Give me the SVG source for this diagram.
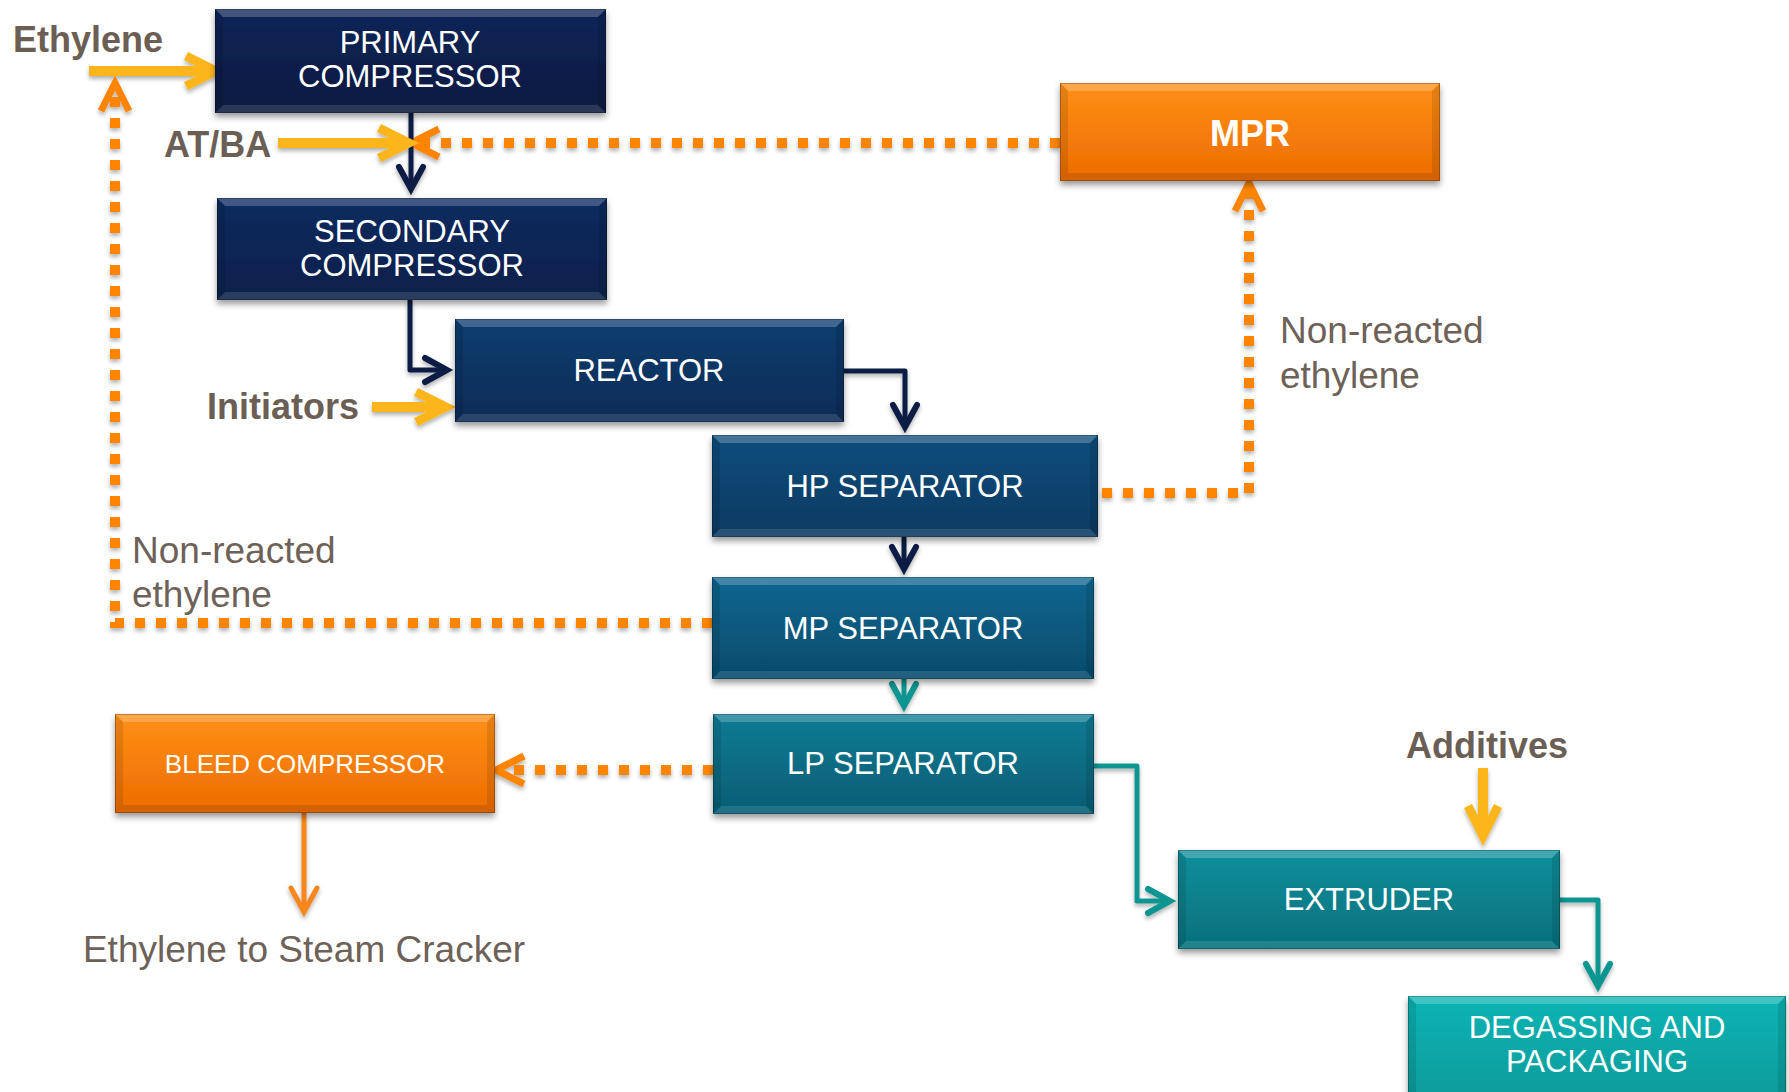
<svg xmlns="http://www.w3.org/2000/svg" width="1789" height="1092" viewBox="0 0 1789 1092">
<defs>
  <style>
    .node-text{font-family:"Liberation Sans",Arial,sans-serif;font-size:31px;fill:#ffffff;text-anchor:middle}
    .node-text.big{font-size:36px;font-weight:bold}
    .node-text.small{font-size:26px}
    .label{font-family:"Liberation Sans",Arial,sans-serif;fill:#6d6158}
    .blabel{font-family:"Liberation Sans",Arial,sans-serif;font-size:36px;font-weight:bold;fill:#6b5e55}
    .glabel{font-size:37px}
    .bt{fill:#ffffff;fill-opacity:0.22}
    .bb{fill:#ffffff;fill-opacity:0.12}
    .bs{fill:#000000;fill-opacity:0.10}
    .edge{fill:none;stroke:#000000;stroke-opacity:0.25;stroke-width:1}
    .navy{fill:none;stroke:#0d1f45;stroke-width:5;stroke-linejoin:round}
    .teal{fill:none;stroke:#0e9592;stroke-width:5;stroke-linejoin:round}
    .yellow{fill:none;stroke:#fdb51c;stroke-width:10}
    .odot{fill:none;stroke:#ff8500;stroke-width:10;stroke-dasharray:10 11}
    .osolid{fill:none;stroke:#f7861a;stroke-width:5}
  </style>
  <filter id="sh" x="-10%" y="-20%" width="120%" height="150%">
    <feDropShadow dx="0" dy="4" stdDeviation="3" flood-color="#000" flood-opacity="0.4"/>
  </filter>
  <filter id="lsh" x="-10%" y="-10%" width="120%" height="120%">
    <feDropShadow dx="0" dy="3" stdDeviation="2" flood-color="#000" flood-opacity="0.3"/>
  </filter>
  <linearGradient id="g-primary" x1="0" y1="0" x2="0" y2="1"><stop offset="0" stop-color="#0c2558"/><stop offset="1" stop-color="#071a40"/></linearGradient>
  <linearGradient id="g-secondary" x1="0" y1="0" x2="0" y2="1"><stop offset="0" stop-color="#0c2b60"/><stop offset="1" stop-color="#08204a"/></linearGradient>
  <linearGradient id="g-reactor" x1="0" y1="0" x2="0" y2="1"><stop offset="0" stop-color="#0b3d70"/><stop offset="1" stop-color="#072c56"/></linearGradient>
  <linearGradient id="g-hp" x1="0" y1="0" x2="0" y2="1"><stop offset="0" stop-color="#0b4d7c"/><stop offset="1" stop-color="#073a62"/></linearGradient>
  <linearGradient id="g-mp" x1="0" y1="0" x2="0" y2="1"><stop offset="0" stop-color="#0a6690"/><stop offset="1" stop-color="#064b6c"/></linearGradient>
  <linearGradient id="g-lp" x1="0" y1="0" x2="0" y2="1"><stop offset="0" stop-color="#0a7c95"/><stop offset="1" stop-color="#065c72"/></linearGradient>
  <linearGradient id="g-ext" x1="0" y1="0" x2="0" y2="1"><stop offset="0" stop-color="#0a909c"/><stop offset="1" stop-color="#06707c"/></linearGradient>
  <linearGradient id="g-deg" x1="0" y1="0" x2="0" y2="1"><stop offset="0" stop-color="#0bb4b4"/><stop offset="1" stop-color="#089c9c"/></linearGradient>
  <linearGradient id="g-orange" x1="0" y1="0" x2="0" y2="1"><stop offset="0" stop-color="#ff9016"/><stop offset="1" stop-color="#ec6c00"/></linearGradient>
  <marker id="m-navy" markerUnits="userSpaceOnUse" orient="auto" overflow="visible" markerWidth="1" markerHeight="1">
    <path d="M-22,-12 L0,0 L-22,12" fill="none" stroke="#0d1f45" stroke-width="6" stroke-linecap="round" stroke-dasharray="none"/>
  </marker>
  <marker id="m-teal" markerUnits="userSpaceOnUse" orient="auto" overflow="visible" markerWidth="1" markerHeight="1">
    <path d="M-22,-12 L0,0 L-22,12" fill="none" stroke="#0e9592" stroke-width="6" stroke-linecap="round" stroke-dasharray="none"/>
  </marker>
  <marker id="m-yellow" markerUnits="userSpaceOnUse" orient="auto" overflow="visible" markerWidth="1" markerHeight="1">
    <path d="M-30,-15 L0,0 L-30,15" fill="none" stroke="#fdb51c" stroke-width="9" stroke-dasharray="none"/>
  </marker>
  <marker id="m-orange" markerUnits="userSpaceOnUse" orient="auto" overflow="visible" markerWidth="1" markerHeight="1">
    <path d="M-20,-14 L8,0 L-20,14" fill="none" stroke="#ff8500" stroke-width="7" stroke-dasharray="none"/>
  </marker>
  <marker id="m-osolid" markerUnits="userSpaceOnUse" orient="auto" overflow="visible" markerWidth="1" markerHeight="1">
    <path d="M-24,-13 L0,0 L-24,13" fill="none" stroke="#f7861a" stroke-width="5" stroke-linecap="round" stroke-dasharray="none"/>
  </marker>
</defs>

<rect x="0" y="0" width="1789" height="1092" fill="#ffffff"/>

<!-- connectors -->
<g id="connectors" filter="url(#lsh)">
  <path class="odot" d="M1060,143 H419" marker-end="url(#m-orange)"/>
  <path class="odot" d="M1102,493 H1249 V191" marker-end="url(#m-orange)"/>
  <path class="odot" d="M712,623 H115 V91" marker-end="url(#m-orange)"/>
  <path class="odot" d="M713,770 H504" marker-end="url(#m-orange)"/>
  <path class="navy" d="M411,113 V189" marker-end="url(#m-navy)"/>
  <path class="navy" d="M410,300 V370 H447" marker-end="url(#m-navy)"/>
  <path class="navy" d="M844,371 H905 V427" marker-end="url(#m-navy)"/>
  <path class="navy" d="M904,537 V569" marker-end="url(#m-navy)"/>
  <path class="teal" d="M904,679 V706" marker-end="url(#m-teal)"/>
  <path class="teal" d="M1094,766 H1137 V901 H1170" marker-end="url(#m-teal)"/>
  <path class="teal" d="M1560,900 H1598 V986" marker-end="url(#m-teal)"/>
  <path class="osolid" d="M304,813 V912" marker-end="url(#m-osolid)"/>
  <path class="yellow" d="M89,71 H216" marker-end="url(#m-yellow)"/>
  <path class="yellow" d="M278,143 H409" marker-end="url(#m-yellow)"/>
  <path class="yellow" d="M372,407 H446" marker-end="url(#m-yellow)"/>
  <path class="yellow" d="M1483,768 V836" marker-end="url(#m-yellow)"/>
</g>

<!-- labels -->
<g id="labels">
  <text class="blabel" x="13" y="52">Ethylene</text>
  <text class="blabel" x="164" y="157">AT/BA</text>
  <text class="blabel" x="207" y="419">Initiators</text>
  <text class="blabel" x="1487" y="758" text-anchor="middle">Additives</text>
  <text class="label glabel" x="1280" y="343">Non-reacted</text>
  <text class="label glabel" x="1280" y="388">ethylene</text>
  <text class="label glabel" x="132" y="563">Non-reacted</text>
  <text class="label glabel" x="132" y="607">ethylene</text>
  <text class="label glabel" x="304" y="962" text-anchor="middle">Ethylene to Steam Cracker</text>
</g>

<!-- nodes -->
<g id="primary-compressor">
  <rect x="215" y="9" width="391" height="104" fill="url(#g-primary)" filter="url(#sh)"/>
  <polygon class="bt" points="215,9 606,9 598,17 223,17"/>
  <polygon class="bb" points="215,113 606,113 598,105 223,105"/>
  <polygon class="bs" points="215,9 223,17 223,105 215,113"/>
  <polygon class="bs" points="606,9 598,17 598,105 606,113"/>
  <rect class="edge" x="215.5" y="9.5" width="390" height="103"/>
  <text class="node-text" x="410" y="53">PRIMARY</text>
  <text class="node-text" x="410" y="87">COMPRESSOR</text>
</g>
<g id="secondary-compressor">
  <rect x="217" y="198" width="390" height="102" fill="url(#g-secondary)" filter="url(#sh)"/>
  <polygon class="bt" points="217,198 607,198 599,206 225,206"/>
  <polygon class="bb" points="217,300 607,300 599,292 225,292"/>
  <polygon class="bs" points="217,198 225,206 225,292 217,300"/>
  <polygon class="bs" points="607,198 599,206 599,292 607,300"/>
  <rect class="edge" x="217.5" y="198.5" width="389" height="101"/>
  <text class="node-text" x="412" y="242">SECONDARY</text>
  <text class="node-text" x="412" y="276">COMPRESSOR</text>
</g>
<g id="reactor">
  <rect x="455" y="319" width="389" height="103" fill="url(#g-reactor)" filter="url(#sh)"/>
  <polygon class="bt" points="455,319 844,319 836,327 463,327"/>
  <polygon class="bb" points="455,422 844,422 836,414 463,414"/>
  <polygon class="bs" points="455,319 463,327 463,414 455,422"/>
  <polygon class="bs" points="844,319 836,327 836,414 844,422"/>
  <rect class="edge" x="455.5" y="319.5" width="388" height="102"/>
  <text class="node-text" x="649" y="381">REACTOR</text>
</g>
<g id="hp-separator">
  <rect x="712" y="435" width="386" height="102" fill="url(#g-hp)" filter="url(#sh)"/>
  <polygon class="bt" points="712,435 1098,435 1090,443 720,443"/>
  <polygon class="bb" points="712,537 1098,537 1090,529 720,529"/>
  <polygon class="bs" points="712,435 720,443 720,529 712,537"/>
  <polygon class="bs" points="1098,435 1090,443 1090,529 1098,537"/>
  <rect class="edge" x="712.5" y="435.5" width="385" height="101"/>
  <text class="node-text" x="905" y="497">HP SEPARATOR</text>
</g>
<g id="mp-separator">
  <rect x="712" y="577" width="382" height="102" fill="url(#g-mp)" filter="url(#sh)"/>
  <polygon class="bt" points="712,577 1094,577 1086,585 720,585"/>
  <polygon class="bb" points="712,679 1094,679 1086,671 720,671"/>
  <polygon class="bs" points="712,577 720,585 720,671 712,679"/>
  <polygon class="bs" points="1094,577 1086,585 1086,671 1094,679"/>
  <rect class="edge" x="712.5" y="577.5" width="381" height="101"/>
  <text class="node-text" x="903" y="639">MP SEPARATOR</text>
</g>
<g id="lp-separator">
  <rect x="713" y="714" width="381" height="100" fill="url(#g-lp)" filter="url(#sh)"/>
  <polygon class="bt" points="713,714 1094,714 1086,722 721,722"/>
  <polygon class="bb" points="713,814 1094,814 1086,806 721,806"/>
  <polygon class="bs" points="713,714 721,722 721,806 713,814"/>
  <polygon class="bs" points="1094,714 1086,722 1086,806 1094,814"/>
  <rect class="edge" x="713.5" y="714.5" width="380" height="99"/>
  <text class="node-text" x="903" y="774">LP SEPARATOR</text>
</g>
<g id="bleed-compressor">
  <rect x="115" y="714" width="380" height="99" fill="url(#g-orange)" filter="url(#sh)"/>
  <polygon class="bt" points="115,714 495,714 487,722 123,722"/>
  <polygon class="bs" points="115,813 495,813 487,805 123,805"/>
  <polygon class="bs" points="115,714 123,722 123,805 115,813"/>
  <polygon class="bs" points="495,714 487,722 487,805 495,813"/>
  <rect class="edge" x="115.5" y="714.5" width="379" height="98"/>
  <text class="node-text small" x="305" y="773">BLEED COMPRESSOR</text>
</g>
<g id="mpr">
  <rect x="1060" y="83" width="380" height="98" fill="url(#g-orange)" filter="url(#sh)"/>
  <polygon class="bt" points="1060,83 1440,83 1432,91 1068,91"/>
  <polygon class="bs" points="1060,181 1440,181 1432,173 1068,173"/>
  <polygon class="bs" points="1060,83 1068,91 1068,173 1060,181"/>
  <polygon class="bs" points="1440,83 1432,91 1432,173 1440,181"/>
  <rect class="edge" x="1060.5" y="83.5" width="379" height="97"/>
  <text class="node-text big" x="1250" y="146">MPR</text>
</g>
<g id="extruder">
  <rect x="1178" y="850" width="382" height="99" fill="url(#g-ext)" filter="url(#sh)"/>
  <polygon class="bt" points="1178,850 1560,850 1552,858 1186,858"/>
  <polygon class="bb" points="1178,949 1560,949 1552,941 1186,941"/>
  <polygon class="bs" points="1178,850 1186,858 1186,941 1178,949"/>
  <polygon class="bs" points="1560,850 1552,858 1552,941 1560,949"/>
  <rect class="edge" x="1178.5" y="850.5" width="381" height="98"/>
  <text class="node-text" x="1369" y="910">EXTRUDER</text>
</g>
<g id="degassing-packaging">
  <rect x="1408" y="996" width="378" height="100" fill="url(#g-deg)" filter="url(#sh)"/>
  <polygon class="bt" points="1408,996 1786,996 1778,1004 1416,1004"/>
  <polygon class="bs" points="1408,996 1416,1004 1416,1092 1408,1096"/>
  <polygon class="bs" points="1786,996 1778,1004 1778,1092 1786,1096"/>
  <rect class="edge" x="1408.5" y="996.5" width="377" height="99"/>
  <text class="node-text" x="1597" y="1038">DEGASSING AND</text>
  <text class="node-text" x="1597" y="1072">PACKAGING</text>
</g>
</svg>
